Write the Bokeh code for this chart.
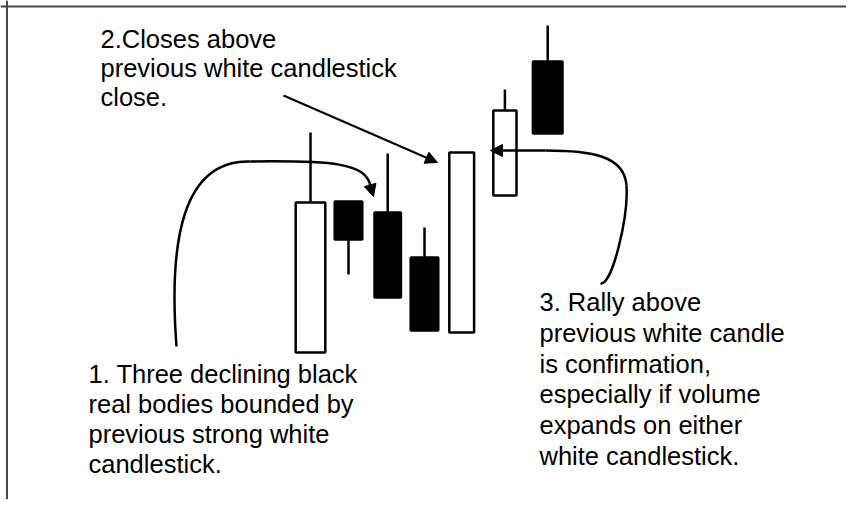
from bokeh.plotting import figure
from bokeh.models import Range1d, Arrow, NormalHead, Span
from bokeh.core.properties import value
from bokeh.embed import file_html
from bokeh.resources import INLINE

# ---- candlestick data (session position, price units) ----
days   = [0, 0.95, 1.93, 2.85, 3.78, 4.86, 5.93]
opens  = [15.5, 30.6, 29.5, 25.0, 17.5, 31.2, 44.6]
highs  = [37.5, 30.6, 35.4, 28.0, 35.5, 41.8, 48.2]
lows   = [15.5, 23.3, 21.0, 17.7, 17.5, 31.2, 37.4]
closes = [30.5, 26.8, 21.0, 17.7, 35.5, 39.7, 37.4]

# ---- annotation texts ----
note1 = ["1. Three declining black", "real bodies bounded by",
         "previous strong white", "candlestick."]
note2 = ["2.Closes above", "previous white candlestick", "close."]
note3 = ["3. Rally above", "previous white candle", "is confirmation,",
         "especially if volume", "expands on either", "white candlestick."]

# styles
body_widths = [0.74, 0.69, 0.66, 0.69, 0.62, 0.58, 0.74]
FONT = "Liberation Sans"
FS = "25.5px"
W, H = 846, 499
TXT_SHIFT = -12

p = figure(width=W, height=H, output_backend="svg", toolbar_location=None,
           x_range=Range1d(-7.75, 13.4), y_range=Range1d(0.8, 50.7),
           x_axis_location=None, y_axis_location=None, min_border=0,
           outline_line_color=None, background_fill_color="white",
           border_fill_color="white")
p.grid.visible = False
# pixel-like coordinate system for annotations
p.extra_x_ranges = {"px": Range1d(0, W)}
p.extra_y_ranges = {"px": Range1d(H, 0)}

tops = [max(o, c) for o, c in zip(opens, closes)]
bots = [min(o, c) for o, c in zip(opens, closes)]
fills = ["white" if c >= o else "black" for o, c in zip(opens, closes)]

p.segment(x0=days, y0=lows, x1=days, y1=highs, line_color="black", line_width=2.5)
p.vbar(x=days, width=body_widths, top=tops, bottom=bots, fill_color=fills,
       line_color="black", line_width=2.5)

# frame lines (top and left)
p.add_layout(Span(location=6, dimension="width", line_color="#444444", line_width=2,
                  y_range_name="px"))
p.add_layout(Span(location=6.5, dimension="height", line_color="#444444", line_width=2,
                  x_range_name="px"))

def block(lines, x0, y0, step):
    p.text(x=[x0] * len(lines),
           y=[y0 + TXT_SHIFT + i * step for i in range(len(lines))],
           text=lines, text_font=value(FONT), text_font_size=FS,
           text_color="black", text_baseline="alphabetic", text_align="left",
           x_range_name="px", y_range_name="px")

block(note2, 100, 50, 29)
block(note1, 88, 385, 30)
block(note3, 539, 313.5, 30.8)

# curved leader lines
p.bezier(x0=[176, 250], y0=[346, 161], x1=[250, 370], y1=[161, 186],
         cx0=[168, 330], cy0=[240, 160], cx1=[182, 366], cy1=[159, 162],
         line_color="black", line_width=2.5, x_range_name="px", y_range_name="px")
p.bezier(x0=[600, 626], y0=[283, 185], x1=[626, 545], y1=[185, 150],
         cx0=[612, 624], cy0=[285, 155], cx1=[628, 590], cy1=[215, 150],
         line_color="black", line_width=2.5, x_range_name="px", y_range_name="px")

def arrow(xs, ys, xe, ye, lw):
    p.add_layout(Arrow(x_start=xs, y_start=ys, x_end=xe, y_end=ye,
                       line_color="black", line_width=lw,
                       end=NormalHead(size=12, fill_color="black", line_color="black",
                                      line_width=1),
                       x_range_name="px", y_range_name="px"))

arrow(283, 95, 437, 162, 2)
arrow(369.5, 184, 373, 196, 2.5)
arrow(545, 150, 490, 150, 2.5)

open("out.html", "w").write(file_html(p, INLINE))
